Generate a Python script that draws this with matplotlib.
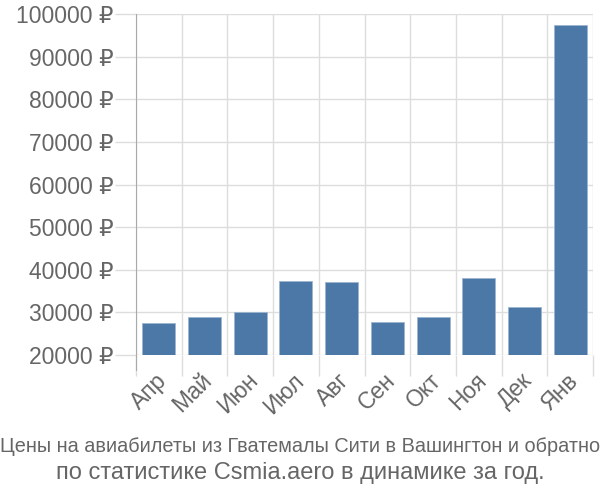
import matplotlib
matplotlib.use("Agg")
import matplotlib.pyplot as plt
import matplotlib.transforms as mtransforms
import numpy as np

months = ["Апр", "Май", "Июн", "Июл", "Авг", "Сен", "Окт", "Ноя", "Дек", "Янв"]
prices = [27400, 28950, 30120, 37450, 37200, 27700, 29030, 38000, 31220, 97400]
yticks = [20000, 30000, 40000, 50000, 60000, 70000, 80000, 90000, 100000]
ytick_labels = [f"{v} ₽" for v in yticks]
title1 = "Цены на авиабилеты из Гватемалы Сити в Вашингтон и обратно"
title2 = "по статистике Csmia.aero в динамике за год."

fam = ["Liberation Sans", "DejaVu Sans"]
plt.rcParams["font.family"] = fam
grey = "#666666"
gridc = "#dddddd"

fig = plt.figure(figsize=(6, 5), dpi=100)
ax = fig.add_axes([136/600, 1-355/500, (593-136)/600, (355-14)/500])

x = np.arange(len(months))
ax.bar(x, prices, width=0.72, color="#4c78a8", edgecolor="#9db4d0", linewidth=0.6, zorder=3)

ax.set_xlim(-0.5, len(months)-0.5)
ax.set_ylim(20000, 100000)
ax.set_yticks(yticks)
ax.set_yticklabels(ytick_labels, fontsize=16.5, color=grey)
ax.set_xticks(x)
ax.set_xticklabels(months, fontsize=16.5, color=grey, rotation=45, ha="right", rotation_mode="anchor")
ax.set_xticks(np.arange(len(months)+1)-0.5, minor=True)
ax.tick_params(axis="x", which="major", length=0, pad=10)
ax.tick_params(axis="x", which="minor", length=15, color=gridc, width=1)
ax.tick_params(axis="y", length=15, color=gridc, width=1, pad=1)
ax.grid(True, which="minor", axis="x", color=gridc, linewidth=1, zorder=0)
ax.grid(True, which="major", axis="y", color=gridc, linewidth=1, zorder=0)
for s in ["top", "right", "bottom"]:
    ax.spines[s].set_visible(False)
ax.spines["left"].set_color("#aaaaaa")
ax.spines["left"].set_bounds(20000 - 15/341*80000, 100000)

offset = mtransforms.ScaledTranslation(-4/100, 0, fig.dpi_scale_trans)
for lbl in ax.get_xticklabels():
    lbl.set_transform(lbl.get_transform() + offset)

fig.text(0.5, 1-447/500, title1, ha="center", va="center", fontsize=14.3, color=grey)
fig.text(0.5, 1-473/500, title2, ha="center", va="center", fontsize=17, color=grey)

fig.savefig("out.png", dpi=100)
